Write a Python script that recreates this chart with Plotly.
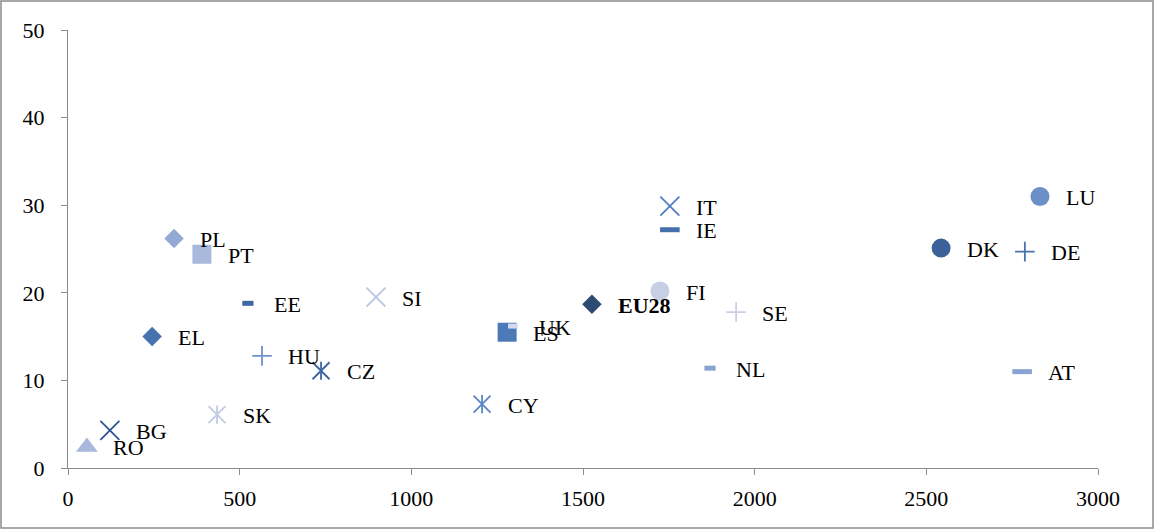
import plotly.graph_objects as go

countries = ["LU", "DK", "DE", "AT", "IT", "IE", "FI", "EU28", "SE", "NL", "ES", "UK",
             "CY", "SI", "CZ", "HU", "EE", "PL", "PT", "EL", "SK", "BG", "RO"]
x_vals = [2831, 2543, 2787, 2779, 1753, 1753, 1724, 1526, 1946, 1870, 1279, 1296,
          1206, 897, 737, 565, 524, 309, 390, 245, 434, 122, 55]
y_vals = [31.0, 25.1, 24.7, 11.0, 29.9, 27.2, 20.2, 18.7, 17.8, 11.4, 15.5, 16.2,
          7.3, 19.5, 11.1, 12.8, 18.8, 26.2, 24.4, 15.0, 6.1, 4.3, 2.4]
shapes_kind = ["circle", "circle", "plus", "dash", "x", "dash", "circle", "diamond", "plus", "dash",
               "square", "dash", "star", "x", "star", "plus", "dash", "diamond", "square",
               "diamond", "star", "x", "triangle"]
colors = ["#6a8fc9", "#3b6198", "#4a72ad", "#8aa3d2", "#4f7cc0", "#4470ab", "#c7cfe5", "#2c4a72",
          "#c8d0e5", "#89a3d1", "#4c79b8", "#d3dbec", "#5a86c6", "#b9c5e1", "#3d65a1", "#6f93cb",
          "#3f67a3", "#94aad4", "#a8b9dc", "#4672ae", "#c0cbe4", "#2f5590", "#a8b9dc"]
dash_sizes = {"AT": 14, "IE": 14, "NL": 8, "EE": 8, "UK": 7}

x_ticks = [0, 500, 1000, 1500, 2000, 2500, 3000]
y_ticks = [0, 10, 20, 30, 40, 50]

symbol_map = {"circle": "circle", "square": "square", "diamond": "diamond",
              "triangle": "triangle-up", "plus": "cross-thin-open", "x": "x-thin-open",
              "star": "x-thin-open", "dash": "line-ew-open"}
size_map = {"circle": 19, "square": 19, "diamond": 15, "triangle": 19,
            "plus": 14, "x": 19, "star": 17}

symbols, sizes, lwidths = [], [], []
for c, k in zip(countries, shapes_kind):
    symbols.append(symbol_map[k])
    if k == "dash":
        sizes.append(dash_sizes[c])
        lwidths.append(5)
    else:
        sizes.append(size_map[k])
        lwidths.append(0 if k in ("circle", "square", "diamond", "triangle") else 1.8)

fig = go.Figure()
fig.add_trace(go.Scatter(
    x=x_vals, y=y_vals, mode="markers", opacity=1,
    marker=dict(symbol=symbols, size=sizes, color=colors, opacity=1,
                line=dict(color=colors, width=lwidths)),
    showlegend=False, hoverinfo="skip"))

# vertical stroke for star (6-spoke) markers
star_idx = [i for i, k in enumerate(shapes_kind) if k == "star"]
star_cols = [colors[i] for i in star_idx]
fig.add_trace(go.Scatter(
    x=[x_vals[i] for i in star_idx], y=[y_vals[i] for i in star_idx], mode="markers",
    opacity=1,
    marker=dict(symbol="line-ns-open", size=13, color=star_cols, opacity=1,
                line=dict(color=star_cols, width=1.8)),
    showlegend=False, hoverinfo="skip"))

for c, xv, yv in zip(countries, x_vals, y_vals):
    fig.add_annotation(
        x=xv, y=yv, text=("<b>%s</b>" % c) if c == "EU28" else c,
        showarrow=False, xanchor="left", yanchor="middle", xshift=24, yshift=-1,
        font=dict(family="Liberation Serif", size=22, color="#000000"))

axis_common = dict(showline=True, linecolor="#8c8c8c", linewidth=1.3, ticks="outside",
                   ticklen=6, tickcolor="#8c8c8c", tickwidth=1.3, showgrid=False,
                   zeroline=False, tickfont=dict(family="Liberation Serif", size=22, color="#000000"))

fig.update_xaxes(range=[0, 3000], tickvals=x_ticks, ticktext=[str(v) for v in x_ticks],
                 ticklabelstandoff=4, **axis_common)
fig.update_yaxes(range=[0, 50], tickvals=y_ticks, ticktext=[str(v) for v in y_ticks],
                 ticklabelstandoff=12, **axis_common)

fig.update_layout(
    width=1155, height=530,
    margin=dict(l=68, r=57, t=30, b=62),
    paper_bgcolor="#ffffff", plot_bgcolor="#ffffff",
    shapes=[dict(type="rect", xref="paper", yref="paper",
                 x0=(1 - 68) / 1030, x1=(1153 - 68) / 1030,
                 y0=(468 - 528) / 438, y1=(468 - 1) / 438,
                 line=dict(color="#8c8c8c", width=1.5), fillcolor="rgba(0,0,0,0)", layer="below")],
)

fig.write_html("out.html", config={"displayModeBar": False},
               post_script="document.body.style.margin='0px';")
